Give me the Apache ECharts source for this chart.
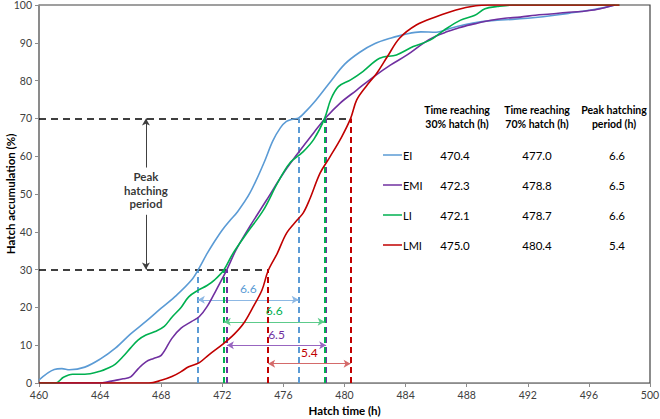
<!DOCTYPE html>
<html><head><meta charset="utf-8">
<script src="https://cdn.jsdelivr.net/npm/echarts@6/dist/echarts.min.js"></script>
<style>html,body{margin:0;padding:0;background:#fff}#c{width:660px;height:419px}</style>
</head><body><div id="c"></div>
<script>
// ---- data ----
const seriesNames = ['EI', 'EMI', 'LI', 'LMI'];
const eiTime = [460, 461, 461.5, 462, 463, 464, 465, 466, 467, 468, 469, 470, 470.5, 471, 471.5, 472, 472.5, 473, 473.8, 474.7, 475.3, 475.8, 476.2, 476.6, 477, 477.5, 478, 479, 480, 481, 482, 483, 484, 485, 486, 487, 488, 489, 490, 491, 492, 493, 494, 495, 496, 497, 497.7];
const eiValue = [0.8, 3.6, 3.8, 3.5, 4.2, 6.3, 9.2, 13, 16.3, 19.8, 23.2, 27.3, 30.5, 34.2, 37.5, 40.5, 43, 45.3, 50.2, 58, 64, 67.5, 69.2, 69.8, 70.1, 72, 74.2, 79.3, 84.3, 87.5, 89.8, 91.2, 92.3, 92.9, 92.8, 93.9, 94.9, 95.6, 96, 96.2, 96.5, 96.9, 97.4, 98, 98.6, 99.3, 100];
const emiTime = [460, 464, 464.5, 465, 465.5, 466, 466.5, 467, 467.5, 468, 468.7, 469.3, 470, 470.5, 471, 471.6, 472.3, 472.9, 473.8, 474.9, 476, 477.1, 478, 478.8, 479.7, 480.8, 481.9, 483, 484.1, 485.2, 486, 486.7, 487.5, 488.5, 489.5, 490.5, 491.5, 492.5, 493.5, 494.5, 495.5, 496.5, 497.7];
const emiValue = [0, 0, 0.3, 0.7, 1.1, 1.6, 3.8, 5.6, 6.5, 7.3, 11.8, 14.5, 16.3, 17.6, 20.2, 24.6, 30, 35.2, 41.4, 48.4, 55.5, 61.6, 66.3, 70.3, 74, 77.5, 81, 84.1, 86.8, 90, 91.8, 92.9, 94, 95, 95.9, 96.5, 96.8, 97.3, 97.6, 98, 98.3, 98.8, 100];
const liTime = [460, 461.1, 461.6, 462.2, 463, 464, 464.5, 465, 465.5, 466, 466.5, 467, 467.6, 468.2, 468.7, 469.3, 469.8, 470.4, 471, 471.5, 472.1, 472.7, 473.6, 474.7, 475.6, 476.4, 477.3, 478, 478.7, 479.1, 479.6, 480.4, 481.2, 482.3, 483.4, 484.5, 485.6, 486.5, 487.6, 488.5, 489.2, 490, 491, 498];
const liValue = [0, 0, 1.5, 2.3, 2.3, 3.1, 3.9, 5, 7, 9.3, 11.4, 12.7, 13.6, 15, 17.4, 20, 22.8, 24.5, 25.8, 27.3, 29.9, 34.3, 39.6, 45.8, 52.8, 58.1, 61.2, 64.5, 70, 75, 78.4, 80.2, 82.4, 85.9, 86.8, 89, 90.7, 93.3, 96, 97.2, 99, 99.6, 100, 100];
const lmiTime = [460, 467.2, 468, 468.7, 469.3, 469.8, 470.5, 471.1, 472.1, 472.8, 473.4, 474, 474.6, 475, 475.6, 476.2, 476.9, 477.3, 477.7, 478.4, 479, 479.8, 480.4, 480.8, 481.4, 482.1, 482.8, 483.6, 484.7, 486, 487.3, 488.6, 489.5, 498];
const lmiValue = [0, 0, 0.7, 1.7, 3, 4.3, 5.4, 7.4, 10.5, 13, 15.8, 20, 24.6, 29.7, 34.3, 39.6, 43.1, 45, 48.4, 55.5, 59.5, 65, 70, 74.9, 78.4, 81.9, 86.3, 91.2, 94.7, 96.9, 98.7, 99.8, 100, 100];
const time30 = [470.4, 472.3, 472.1, 475.0];
const time70 = [477.0, 478.8, 478.7, 480.4];
const peakPeriod = [6.6, 6.5, 6.6, 5.4];
const lowPct = 30, highPct = 70;
const xMin = 460, xMax = 500, xStep = 4;
const yMin = 0, yMax = 100, yStep = 10;
const tableHeaders = ['Time reaching\n30% hatch (h)', 'Time reaching\n70% hatch (h)', 'Peak hatching\nperiod (h)'];
const peakText = 'Peak\nhatching\nperiod';

// ---- styling / layout ----
const FONT = 'Lato, "Liberation Sans", sans-serif';
const colors = ['#5B9BD5', '#7030A0', '#00B050', '#C00000'];
const arrowColors = ['#8DB8E4', '#9865C0', '#5CCB8B', '#D46A6A'];
const arrowLevels = [22, 10, 16.2, 5.1];
const peakX = 467;
const times = [eiTime, emiTime, liTime, lmiTime];
const values = [eiValue, emiValue, liValue, lmiValue];

function pair(x1, y1, x2, y2, style, s1, s2, label) {
  const a = { coord: [x1, y1], symbol: s1 || 'none', lineStyle: style };
  if (label) a.label = label;
  return [a, { coord: [x2, y2], symbol: s2 || 'none' }];
}

const series = seriesNames.map((name, i) => {
  const dash = { type: [6, 4], color: colors[i], width: 2 };
  const ml = [
    pair(time30[i], yMin, time30[i], lowPct, dash),
    pair(time70[i], yMin, time70[i], highPct, dash),
    pair(time30[i], arrowLevels[i], time70[i], arrowLevels[i],
      { type: 'solid', color: arrowColors[i], width: 1 }, 'arrow', 'arrow',
      { show: true, position: 'middle', formatter: peakPeriod[i].toFixed(1), color: colors[i],
        fontSize: 12, fontFamily: FONT, distance: 5 })
  ];
  if (i === 0) {
    const blk = { type: [7, 5], color: '#000', width: 1.5 };
    ml.push(pair(xMin, highPct, Math.max(...time70), highPct, blk));
    ml.push(pair(xMin, lowPct, Math.max(...time30), lowPct, blk));
    const ar = { type: 'solid', color: '#404040', width: 1 };
    ml.push(pair(peakX, 57, peakX, highPct, ar, 'none', 'arrow'));
    ml.push(pair(peakX, 44.5, peakX, lowPct, ar, 'none', 'arrow'));
  }
  return {
    name, type: 'line', smooth: 0.35, showSymbol: false, symbol: 'none',
    data: times[i].map((t, k) => [t, values[i][k]]),
    lineStyle: { color: colors[i], width: 1.6 }, itemStyle: { color: colors[i] },
    z: 3,
    markLine: { silent: true, animation: false, symbolSize: [6, 7], label: { show: false }, data: ml, z: 2 }
  };
});
series.push({
  type: 'scatter', silent: true, symbolSize: 0, data: [[peakX, 51]],
  label: { show: true, position: 'inside', formatter: peakText, color: '#000', fontWeight: 'bold',
    fontSize: 11.5, lineHeight: 13.5, fontFamily: FONT, align: 'center' }
});

// table (legend) graphics
const colX = [457, 537, 614];
const rowY = [155, 185, 215, 245];
const graphic = [];
tableHeaders.forEach((h, j) => graphic.push({
  type: 'text', x: colX[j], y: 117, style: { text: h, fontFamily: FONT, fontSize: 10.5, fontWeight: 'bold',
    fill: '#000', align: 'center', verticalAlign: 'middle', lineHeight: 13.5 }
}));
seriesNames.forEach((n, i) => {
  graphic.push({ type: 'line', shape: { x1: 383, y1: rowY[i], x2: 402, y2: rowY[i] },
    style: { stroke: colors[i], lineWidth: 1.5 } });
  graphic.push({ type: 'text', x: 403, y: rowY[i], style: { text: n, fontFamily: FONT, fontSize: 11,
    fill: '#000', verticalAlign: 'middle' } });
  [time30[i].toFixed(1), time70[i].toFixed(1), peakPeriod[i].toFixed(1)].forEach((v, j) => graphic.push({
    type: 'text', x: [455, 537, 617][j], y: rowY[i], style: { text: v, fontFamily: FONT, fontSize: 11.5,
      fill: '#000', align: 'center', verticalAlign: 'middle' }
  }));
});

const chart = echarts.init(document.getElementById('c'), null, { renderer: 'svg' });
chart.setOption({
  animation: false,
  backgroundColor: '#fff',
  grid: { left: 39, right: 10, top: 5, bottom: 36, show: true, borderColor: '#404040', borderWidth: 1.2,
    containLabel: false, outerBoundsMode: 'none' },
  xAxis: {
    type: 'value', min: xMin, max: xMax, interval: xStep,
    name: 'Hatch time (h)', nameLocation: 'middle', nameGap: 21, nameMoveOverlap: false,
    nameTextStyle: { fontFamily: FONT, fontWeight: 'bold', fontSize: 11.5, color: '#000' },
    axisLine: { lineStyle: { color: '#8c8c8c', width: 1 } },
    axisTick: { show: true, length: 4, lineStyle: { color: '#8c8c8c' } },
    axisLabel: { fontFamily: FONT, fontSize: 10.5, color: '#404040', margin: 6 },
    splitLine: { show: false }
  },
  yAxis: {
    type: 'value', min: yMin, max: yMax, interval: yStep,
    name: 'Hatch accumulation (%)', nameLocation: 'middle', nameGap: 23, nameRotate: 90, nameMoveOverlap: false,
    nameTextStyle: { fontFamily: FONT, fontWeight: 'bold', fontSize: 11.5, color: '#000' },
    axisLine: { show: true, lineStyle: { color: '#8c8c8c', width: 1 } },
    axisTick: { show: true, length: 4, lineStyle: { color: '#8c8c8c' } },
    axisLabel: { fontFamily: FONT, fontSize: 10.5, color: '#404040', margin: 7 },
    splitLine: { show: false }
  },
  series,
  graphic
});
</script></body></html>
